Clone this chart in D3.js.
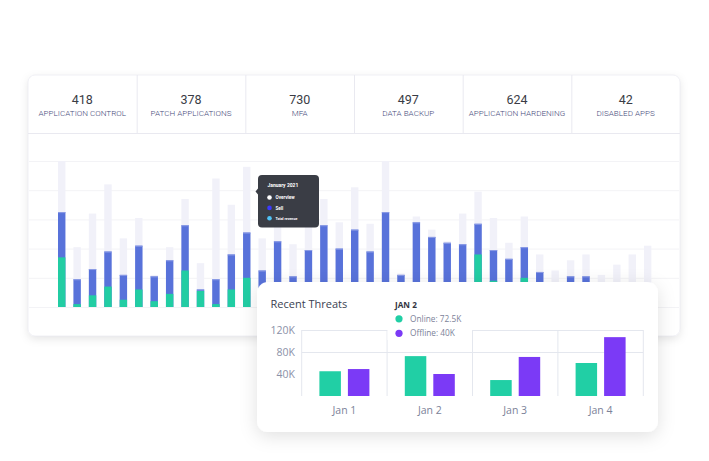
<!DOCTYPE html>
<html><head><meta charset="utf-8">
<script src="https://cdn.jsdelivr.net/npm/d3@7"></script>
<style>
html,body{margin:0;padding:0;background:#fff;}
svg{display:block;}
</style></head>
<body>
<svg id="c" width="709" height="461"></svg>
<script>
// ---- data ----
const statValues = [418, 378, 730, 497, 624, 42];
const statLabels = ["APPLICATION CONTROL", "PATCH APPLICATIONS", "MFA", "DATA BACKUP", "APPLICATION HARDENING", "DISABLED APPS"];

// background stacked-looking bars (overlapping from baseline)
const lightSeries = [50,20.5,32,42,23.5,30.5,11,20.5,37,15,44,35,48,23.5,32.5,21.5,33.5,37,29,41,28.5,50,11.5,31,26.5,22.5,32,39.5,30.5,22,31,18,12.5,16,18,11,14.5,18,21];
const blueSeries  = [32.5,9.5,13,19,11,21,10.5,16,28,6,9.5,18,25.5,12.5,22.5,10.5,19.5,28,20,26.5,19,32.5,11,29,24,22,21.5,28.5,19.5,16.5,20.5,12,6,10.5,10.5,5,6,7,8];
const greenSeries = [17,1,4,7,2.5,6,2,4.5,12.5,5.5,1,6,10,4,3,2,5,6,4,5,3,6,2,5,4,3,4,18,9,3,10,3,2,2,2,1,2,2,3];
const bgTicks = [0,10,20,30,40,50];

const tooltipTitle = "January 2021";
const tooltipItems = ["Overview","Sell","Total revenue"];
const tooltipColors = ["#ffffff","#3b3bff","#4fc3f7"];

const threatDays = ["Jan 1","Jan 2","Jan 3","Jan 4"];
const onlineValues = [45, 72.5, 29, 60];
const offlineValues = [49, 40, 71, 107];
const threatTicks = [40, 80, 120];

// ---- drawing ----
const svg = d3.select("#c");
const defs = svg.append("defs");
const f1 = defs.append("filter").attr("id","sh1").attr("x","-10%").attr("y","-10%").attr("width","120%").attr("height","130%");
f1.append("feDropShadow").attr("dx",0).attr("dy",3).attr("stdDeviation",4).attr("flood-color","#000").attr("flood-opacity",0.10);
const f2 = defs.append("filter").attr("id","sh2").attr("x","-15%").attr("y","-20%").attr("width","130%").attr("height","150%");
f2.append("feDropShadow").attr("dx",0).attr("dy",4).attr("stdDeviation",9).attr("flood-color","#000").attr("flood-opacity",0.12);

// background card
const card = {x:28, y:75, w:652, h:261};
svg.append("rect").attr("x",card.x).attr("y",card.y).attr("width",card.w).attr("height",card.h)
  .attr("rx",7).attr("fill","#fff").attr("filter","url(#sh1)");
svg.append("rect").attr("x",card.x).attr("y",card.y).attr("width",card.w).attr("height",card.h)
  .attr("rx",7).attr("fill","#fff").attr("stroke","#ececf2").attr("stroke-width",0.8);

// header stats
const colX = d3.scaleBand().domain(d3.range(statValues.length)).range([card.x, card.x+card.w]);
const hdr = svg.append("g");
hdr.append("line").attr("x1",card.x).attr("x2",card.x+card.w).attr("y1",133.5).attr("y2",133.5).attr("stroke","#e9e9f0");
statValues.forEach((v,i)=>{
  if(i>0) hdr.append("line").attr("x1",colX(i)+0.5).attr("x2",colX(i)+0.5).attr("y1",card.y).attr("y2",133).attr("stroke","#e9e9f0");
  const cx = colX(i)+colX.bandwidth()/2;
  hdr.append("text").attr("x",cx).attr("y",103.5).attr("text-anchor","middle")
    .attr("font-family","Roboto").attr("font-size",12.5).attr("fill","#3a3c45").text(v);
  hdr.append("text").attr("x",cx).attr("y",116).attr("text-anchor","middle")
    .attr("font-family","Roboto").attr("font-weight",300).attr("font-size",8.1).attr("fill","#474c7c").text(statLabels[i]);
});

// background chart
const bx = d3.scaleBand().domain(d3.range(lightSeries.length)).range([54, 655.4]).paddingInner(0.52).paddingOuter(0.26);
const by = d3.scaleLinear().domain([0,50]).range([307,161]);
const bg = svg.append("g");
bg.selectAll("line.g").data(bgTicks).join("line").attr("class","g")
  .attr("x1",card.x+1).attr("x2",card.x+card.w-1).attr("y1",d=>by(d)+0.5).attr("y2",d=>by(d)+0.5)
  .attr("stroke","#f3f3f6");
bg.selectAll("rect.l").data(lightSeries).join("rect").attr("class","l")
  .attr("x",(d,i)=>bx(i)).attr("width",bx.bandwidth()).attr("y",d=>by(d)).attr("height",d=>by(0)-by(d)).attr("fill","#f1f1f9");
bg.selectAll("rect.b").data(blueSeries).join("rect").attr("class","b")
  .attr("x",(d,i)=>bx(i)).attr("width",bx.bandwidth()).attr("y",d=>by(d)).attr("height",d=>by(0)-by(d)).attr("fill","#5872da");
bg.selectAll("rect.bt").data(blueSeries).join("rect").attr("class","bt")
  .attr("x",(d,i)=>bx(i)).attr("width",bx.bandwidth()).attr("y",d=>by(d)).attr("height",1).attr("fill","#8d9de6");
bg.selectAll("rect.gr").data(greenSeries).join("rect").attr("class","gr")
  .attr("x",(d,i)=>bx(i)).attr("width",bx.bandwidth()).attr("y",d=>by(d)).attr("height",d=>by(0)-by(d)).attr("fill","#22cda3");

// tooltip
const tt = svg.append("g");
tt.append("rect").attr("x",258).attr("y",175).attr("width",61).attr("height",52.5).attr("rx",4).attr("fill","#3a3d45");
tt.append("path").attr("d","M258,188.5 L255.5,191.5 L258,194.5 Z").attr("fill","#3a3d45");
tt.append("text").attr("x",267.5).attr("y",187).attr("font-family","Roboto").attr("font-weight","bold").attr("font-size",5).attr("fill","#fff").text(tooltipTitle);
tooltipItems.forEach((t,i)=>{
  const yy = 197.5 + i*10.4;
  tt.append("circle").attr("cx",269.5).attr("cy",yy).attr("r",2.3).attr("fill",tooltipColors[i]);
  tt.append("text").attr("x",275.5).attr("y",yy+1.6).attr("font-family","Roboto").attr("font-weight","bold")
    .attr("font-size",i===2?3.6:4.6).attr("fill","#fff").text(t);
});

// front card
const fc = {x:257, y:282, w:401, h:150};
svg.append("rect").attr("x",fc.x).attr("y",fc.y).attr("width",fc.w).attr("height",fc.h)
  .attr("rx",11).attr("fill","#fff").attr("filter","url(#sh2)");

const fx = d3.scaleBand().domain(threatDays).range([301.7, 643.3]);
const fy = d3.scaleLinear().domain([0,120]).range([396,330]);
const fx1 = d3.scaleBand().domain(["online","offline"]).range([fx.bandwidth()/2-25, fx.bandwidth()/2+25]).paddingInner(0.246);
const fg = svg.append("g");

fg.append("text").attr("x",270.5).attr("y",307.5).attr("font-family","Open Sans").attr("font-size",11).attr("fill","#3b3f52").text("Recent Threats");

// horizontal gridlines
fg.selectAll("line.h").data(threatTicks.filter(d=>d!==40)).join("line").attr("class","h")
  .attr("x1",301.7).attr("x2",643.3).attr("y1",d=>fy(d)+0.5).attr("y2",d=>fy(d)+0.5).attr("stroke","#e4e7ee");
// vertical band lines
const vlines = threatDays.map(d=>fx(d)).concat([643.3]);
fg.selectAll("line.v").data(vlines).join("line").attr("class","v")
  .attr("x1",d=>d).attr("x2",d=>d).attr("y1",fy(120)).attr("y2",fy(0)).attr("stroke","#e4e7ee");
// y labels
fg.selectAll("text.yl").data(threatTicks).join("text").attr("class","yl")
  .attr("x",295).attr("y",d=>fy(d)+3.6).attr("text-anchor","end")
  .attr("font-family","Open Sans").attr("font-size",10.5).attr("fill","#8b91a8").text(d=>d+"K");
// x labels
fg.selectAll("text.xl").data(threatDays).join("text").attr("class","xl")
  .attr("x",d=>fx(d)+fx.bandwidth()/2).attr("y",414).attr("text-anchor","middle")
  .attr("font-family","Open Sans").attr("font-size",10.5).attr("fill","#7c8299").text(d=>d);

// legend/tooltip box over plot
fg.append("rect").attr("x",387.5).attr("y",292).attr("width",84.5).attr("height",48).attr("fill","#fff");
fg.append("text").attr("x",395).attr("y",307.8).attr("font-family","Open Sans").attr("font-weight","bold").attr("font-size",8.2).attr("fill","#33353f").text("JAN 2");
const legendItems = [["Online: 72.5K","#21cfa5"],["Offline: 40K","#7b3af6"]];
legendItems.forEach((it,i)=>{
  const yy = 318.8 + i*14.5;
  fg.append("circle").attr("cx",399).attr("cy",yy).attr("r",3.6).attr("fill",it[1]);
  fg.append("text").attr("x",410).attr("y",yy+3).attr("font-family","Open Sans").attr("font-size",8.3).attr("fill","#7c8299").text(it[0]);
});

// bars
const groups = fg.selectAll("g.day").data(threatDays).join("g").attr("class","day")
  .attr("transform",d=>`translate(${fx(d)},0)`);
groups.append("rect").attr("x",fx1("online")).attr("width",fx1.bandwidth())
  .attr("y",(d,i)=>fy(onlineValues[i])).attr("height",(d,i)=>fy(0)-fy(onlineValues[i])).attr("fill","#21cfa5");
groups.append("rect").attr("x",fx1("offline")).attr("width",fx1.bandwidth())
  .attr("y",(d,i)=>fy(offlineValues[i])).attr("height",(d,i)=>fy(0)-fy(offlineValues[i])).attr("fill","#7b3af6");
</script>
</body></html>
